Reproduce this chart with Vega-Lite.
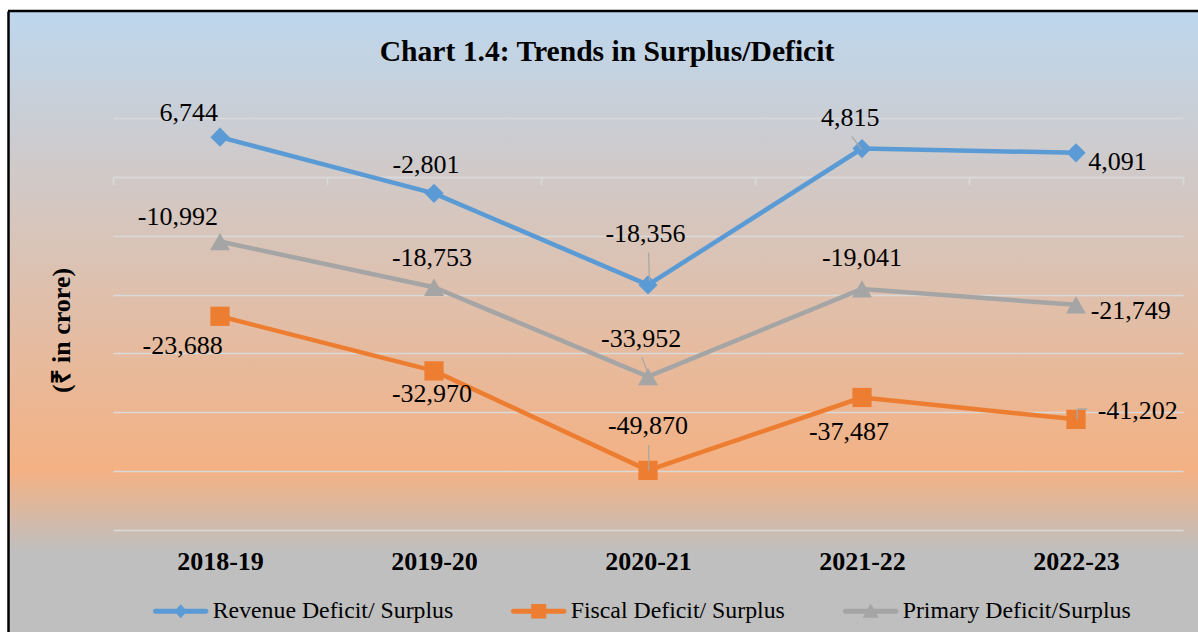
{
  "$schema": "https://vega.github.io/schema/vega-lite/v6.json",
  "width": 1190,
  "height": 621,
  "autosize": {"type": "none"},
  "padding": {"left": 8, "top": 11, "right": 0, "bottom": 0},
  "background": "white",
  "view": {
    "fill": {"gradient": "linear", "x1": 0, "y1": 0, "x2": 0, "y2": 1,
      "stops": [
        {"offset": 0, "color": "#bdd7ee"},
        {"offset": 0.74, "color": "#f4b183"},
        {"offset": 0.87, "color": "#bfbfbf"},
        {"offset": 1, "color": "#bfbfbf"}
      ]},
    "stroke": null
  },
  "config": {
    "locale": {"number": {"decimal": ".", "thousands": ",", "grouping": [3], "currency": ["", ""], "minus": "-"}},
    "font": "Liberation Serif"
  },
  "title": {
    "text": "Chart 1.4: Trends in Surplus/Deficit",
    "font": "Liberation Serif", "fontSize": 29.6, "fontWeight": "bold", "color": "black",
    "anchor": "middle", "frame": "group", "baseline": "alphabetic", "offset": -81, "dx": 4
  },
  "data": {"values": [
    {"year": "2018-19", "series": "Revenue Deficit/ Surplus", "value": 6744},
    {"year": "2019-20", "series": "Revenue Deficit/ Surplus", "value": -2801},
    {"year": "2020-21", "series": "Revenue Deficit/ Surplus", "value": -18356},
    {"year": "2021-22", "series": "Revenue Deficit/ Surplus", "value": 4815},
    {"year": "2022-23", "series": "Revenue Deficit/ Surplus", "value": 4091},
    {"year": "2018-19", "series": "Fiscal Deficit/ Surplus", "value": -23688},
    {"year": "2019-20", "series": "Fiscal Deficit/ Surplus", "value": -32970},
    {"year": "2020-21", "series": "Fiscal Deficit/ Surplus", "value": -49870},
    {"year": "2021-22", "series": "Fiscal Deficit/ Surplus", "value": -37487},
    {"year": "2022-23", "series": "Fiscal Deficit/ Surplus", "value": -41202},
    {"year": "2018-19", "series": "Primary Deficit/Surplus", "value": -10992},
    {"year": "2019-20", "series": "Primary Deficit/Surplus", "value": -18753},
    {"year": "2020-21", "series": "Primary Deficit/Surplus", "value": -33952},
    {"year": "2021-22", "series": "Primary Deficit/Surplus", "value": -19041},
    {"year": "2022-23", "series": "Primary Deficit/Surplus", "value": -21749}
  ]},
  "layer": [
    {
      "data": {"values": [{}]},
      "mark": {"type": "rule", "color": "black", "strokeWidth": 2.5},
      "encoding": {"y": {"datum": 28180, "type": "quantitative"}}
    },
    {
      "mark": {"type": "line", "strokeWidth": 4.5, "strokeJoin": "round"},
      "encoding": {
        "x": {"field": "year", "type": "nominal", "sort": null,
          "scale": {"type": "band", "range": [105, 1175], "paddingInner": 0, "paddingOuter": 0},
          "axis": {"orient": "bottom", "offset": -455.1, "title": null, "grid": false,
            "domainColor": "#d9d9d9", "domainWidth": 1.5, "tickBand": "extent",
            "tickColor": "#d9d9d9", "tickWidth": 1.5, "tickSize": 8,
            "labelFont": "Liberation Serif", "labelFontSize": 26, "labelFontWeight": "bold",
            "labelColor": "black", "labelBaseline": "alphabetic", "labelPadding": 385, "labelAngle": 0}},
        "y": {"field": "value", "type": "quantitative",
          "scale": {"domain": [-77330, 28180], "nice": false, "zero": false},
          "axis": {"orient": "left", "values": [-60000, -50000, -40000, -30000, -20000, -10000, 0, 10000],
            "grid": true, "gridColor": "#d9d9d9", "gridWidth": 1.5, "labels": false, "ticks": false,
            "domain": true, "domainColor": "black", "domainWidth": 2.5,
            "title": "(₹ in crore)", "titleFont": "Liberation Serif", "titleFontSize": 26, "titleFontWeight": "bold",
            "titleColor": "black", "titleAngle": -90, "titleX": 53, "titleY": 319, "titleAlign": "center", "titleBaseline": "middle"}},
        "color": {"field": "series", "type": "nominal",
          "scale": {"domain": ["Revenue Deficit/ Surplus", "Fiscal Deficit/ Surplus", "Primary Deficit/Surplus"], "range": ["#5b9bd5", "#ed7d31", "#a5a5a5"]},
          "legend": {"orient": "none", "legendX": 144.7, "legendY": 572.2, "direction": "horizontal", "columns": 3,
            "columnPadding": 57, "title": null, "padding": 0, "labelFont": "Liberation Serif", "labelFontSize": 23.8,
            "labelColor": "black", "labelOffset": 4, "labelLimit": 0, "symbolSize": 3091,
            "symbolOpacity": 1, "symbolStrokeWidth": 0}}
      }
    },
    {
      "mark": {"type": "point", "filled": true, "size": 3091, "opacity": 0, "strokeWidth": 0},
      "encoding": {
        "x": {"field": "year", "type": "nominal"},
        "y": {"field": "value", "type": "quantitative"},
        "color": {"field": "series", "type": "nominal"},
        "shape": {"field": "series", "type": "nominal",
          "scale": {"domain": ["Revenue Deficit/ Surplus", "Fiscal Deficit/ Surplus", "Primary Deficit/Surplus"],
            "range": [
              "M-0.91,-0.09H0.91A0.09,0.09 0 0 1 0.91,0.09H-0.91A0.09,0.09 0 0 1 -0.91,-0.09Z M0,-0.25L0.23,0L0,0.25L-0.23,0Z",
              "M-0.91,-0.09H0.91A0.09,0.09 0 0 1 0.91,0.09H-0.91A0.09,0.09 0 0 1 -0.91,-0.09Z M-0.27,-0.26H0.27V0.26H-0.27Z",
              "M-0.91,-0.09H0.91A0.09,0.09 0 0 1 0.91,0.09H-0.91A0.09,0.09 0 0 1 -0.91,-0.09Z M0,-0.28L0.29,0.23L-0.29,0.23Z"
            ]},
          "legend": null}
      }
    },
    {
      "transform": [{"filter": "datum.series[0] == 'R'"}],
      "mark": {"type": "point", "shape": "diamond", "filled": true, "size": 370, "opacity": 1, "strokeWidth": 0},
      "encoding": {"x": {"field": "year", "type": "nominal"}, "y": {"field": "value", "type": "quantitative"}, "color": {"field": "series", "type": "nominal"}}
    },
    {
      "transform": [{"filter": "datum.series[0] == 'F'"}],
      "mark": {"type": "point", "shape": "square", "filled": true, "size": 370, "opacity": 1, "strokeWidth": 0},
      "encoding": {"x": {"field": "year", "type": "nominal"}, "y": {"field": "value", "type": "quantitative"}, "color": {"field": "series", "type": "nominal"}}
    },
    {
      "transform": [{"filter": "datum.series[0] == 'P'"}],
      "mark": {"type": "point", "shape": "triangle-up", "filled": true, "size": 400, "opacity": 1, "strokeWidth": 0},
      "encoding": {"x": {"field": "year", "type": "nominal"}, "y": {"field": "value", "type": "quantitative"}, "color": {"field": "series", "type": "nominal"}}
    },
    {
      "transform": [{"filter": "datum.year == '2020-21' && datum.series[0] == 'R'"}],
      "mark": {"type": "rule", "color": "#a6a6a6", "strokeWidth": 1.2, "xOffset": 0.5, "yOffset": -32.4, "x2Offset": 1.5, "y2Offset": -4.4},
      "encoding": {"x": {"field": "year", "type": "nominal"}, "x2": {"field": "year"}, "y": {"field": "value", "type": "quantitative"}, "y2": {"field": "value"}}
    },
    {
      "transform": [{"filter": "datum.year == '2020-21' && datum.series[0] == 'P'"}],
      "mark": {"type": "rule", "color": "#a6a6a6", "strokeWidth": 1.2, "xOffset": -6.3, "yOffset": -19.3, "x2Offset": 0.3, "y2Offset": -3},
      "encoding": {"x": {"field": "year", "type": "nominal"}, "x2": {"field": "year"}, "y": {"field": "value", "type": "quantitative"}, "y2": {"field": "value"}}
    },
    {
      "transform": [{"filter": "datum.year == '2020-21' && datum.series[0] == 'F'"}],
      "mark": {"type": "rule", "color": "#a6a6a6", "strokeWidth": 1.2, "xOffset": 0.7, "yOffset": -25.5, "x2Offset": 0.7, "y2Offset": 0},
      "encoding": {"x": {"field": "year", "type": "nominal"}, "x2": {"field": "year"}, "y": {"field": "value", "type": "quantitative"}, "y2": {"field": "value"}}
    },
    {
      "transform": [{"filter": "datum.year == '2021-22' && datum.series[0] == 'R'"}],
      "mark": {"type": "rule", "color": "#a6a6a6", "strokeWidth": 1.2, "xOffset": -10.3, "yOffset": -12.2, "x2Offset": -0.3, "y2Offset": 1},
      "encoding": {"x": {"field": "year", "type": "nominal"}, "x2": {"field": "year"}, "y": {"field": "value", "type": "quantitative"}, "y2": {"field": "value"}}
    },
    {
      "transform": [{"filter": "datum.year == '2022-23' && datum.series[0] == 'F'"}],
      "mark": {"type": "rule", "color": "#a6a6a6", "strokeWidth": 1.5, "xOffset": 11.3, "yOffset": -10.3, "x2Offset": 1.3, "y2Offset": -10.3},
      "encoding": {"x": {"field": "year", "type": "nominal"}, "x2": {"field": "year"}, "y": {"field": "value", "type": "quantitative"}, "y2": {"field": "value"}}
    },
    {
      "transform": [{"filter": "datum.year == '2022-23' && datum.series[0] == 'F'"}],
      "mark": {"type": "rule", "color": "#a6a6a6", "strokeWidth": 1.5, "xOffset": 1.3, "yOffset": -10.3, "x2Offset": 1.3, "y2Offset": -0.3},
      "encoding": {"x": {"field": "year", "type": "nominal"}, "x2": {"field": "year"}, "y": {"field": "value", "type": "quantitative"}, "y2": {"field": "value"}}
    },
    {
      "transform": [{"filter": "datum.year == '2018-19' && datum.series[0] != 'F'"}],
      "mark": {"type": "text", "align": "right", "baseline": "alphabetic", "dx": -2, "dy": -16.5, "fontSize": 26, "font": "Liberation Serif", "color": "black"},
      "encoding": {"x": {"field": "year", "type": "nominal"}, "y": {"field": "value", "type": "quantitative"}, "text": {"field": "value", "type": "quantitative", "format": ",d"}}
    },
    {
      "transform": [{"filter": "datum.year == '2018-19' && datum.series[0] == 'F'"}],
      "mark": {"type": "text", "align": "right", "baseline": "alphabetic", "dx": 2.7, "dy": 37.3, "fontSize": 26, "font": "Liberation Serif", "color": "black"},
      "encoding": {"x": {"field": "year", "type": "nominal"}, "y": {"field": "value", "type": "quantitative"}, "text": {"field": "value", "type": "quantitative", "format": ",d"}}
    },
    {
      "transform": [{"filter": "datum.year == '2019-20' && datum.series[0] == 'R'"}],
      "mark": {"type": "text", "align": "center", "baseline": "alphabetic", "dx": -8, "dy": -20, "fontSize": 26, "font": "Liberation Serif", "color": "black"},
      "encoding": {"x": {"field": "year", "type": "nominal"}, "y": {"field": "value", "type": "quantitative"}, "text": {"field": "value", "type": "quantitative", "format": ",d"}}
    },
    {
      "transform": [{"filter": "datum.year == '2019-20' && datum.series[0] == 'P'"}],
      "mark": {"type": "text", "align": "center", "baseline": "alphabetic", "dx": -2, "dy": -21.5, "fontSize": 26, "font": "Liberation Serif", "color": "black"},
      "encoding": {"x": {"field": "year", "type": "nominal"}, "y": {"field": "value", "type": "quantitative"}, "text": {"field": "value", "type": "quantitative", "format": ",d"}}
    },
    {
      "transform": [{"filter": "datum.year == '2019-20' && datum.series[0] == 'F'"}],
      "mark": {"type": "text", "align": "center", "baseline": "alphabetic", "dx": -2, "dy": 30.6, "fontSize": 26, "font": "Liberation Serif", "color": "black"},
      "encoding": {"x": {"field": "year", "type": "nominal"}, "y": {"field": "value", "type": "quantitative"}, "text": {"field": "value", "type": "quantitative", "format": ",d"}}
    },
    {
      "transform": [{"filter": "datum.year == '2020-21' && datum.series[0] == 'R'"}],
      "mark": {"type": "text", "align": "center", "baseline": "alphabetic", "dx": -2.5, "dy": -42.7, "fontSize": 26, "font": "Liberation Serif", "color": "black"},
      "encoding": {"x": {"field": "year", "type": "nominal"}, "y": {"field": "value", "type": "quantitative"}, "text": {"field": "value", "type": "quantitative", "format": ",d"}}
    },
    {
      "transform": [{"filter": "datum.year == '2020-21' && datum.series[0] == 'P'"}],
      "mark": {"type": "text", "align": "center", "baseline": "alphabetic", "dx": -6.8, "dy": -29.3, "fontSize": 26, "font": "Liberation Serif", "color": "black"},
      "encoding": {"x": {"field": "year", "type": "nominal"}, "y": {"field": "value", "type": "quantitative"}, "text": {"field": "value", "type": "quantitative", "format": ",d"}}
    },
    {
      "transform": [{"filter": "datum.year == '2020-21' && datum.series[0] == 'F'"}],
      "mark": {"type": "text", "align": "center", "baseline": "alphabetic", "dx": 0, "dy": -36.2, "fontSize": 26, "font": "Liberation Serif", "color": "black"},
      "encoding": {"x": {"field": "year", "type": "nominal"}, "y": {"field": "value", "type": "quantitative"}, "text": {"field": "value", "type": "quantitative", "format": ",d"}}
    },
    {
      "transform": [{"filter": "datum.year == '2021-22' && datum.series[0] == 'R'"}],
      "mark": {"type": "text", "align": "center", "baseline": "alphabetic", "dx": -11.7, "dy": -22.2, "fontSize": 26, "font": "Liberation Serif", "color": "black"},
      "encoding": {"x": {"field": "year", "type": "nominal"}, "y": {"field": "value", "type": "quantitative"}, "text": {"field": "value", "type": "quantitative", "format": ",d"}}
    },
    {
      "transform": [{"filter": "datum.year == '2021-22' && datum.series[0] == 'P'"}],
      "mark": {"type": "text", "align": "center", "baseline": "alphabetic", "dx": 0, "dy": -22.5, "fontSize": 26, "font": "Liberation Serif", "color": "black"},
      "encoding": {"x": {"field": "year", "type": "nominal"}, "y": {"field": "value", "type": "quantitative"}, "text": {"field": "value", "type": "quantitative", "format": ",d"}}
    },
    {
      "transform": [{"filter": "datum.year == '2021-22' && datum.series[0] == 'F'"}],
      "mark": {"type": "text", "align": "center", "baseline": "alphabetic", "dx": -13, "dy": 43, "fontSize": 26, "font": "Liberation Serif", "color": "black"},
      "encoding": {"x": {"field": "year", "type": "nominal"}, "y": {"field": "value", "type": "quantitative"}, "text": {"field": "value", "type": "quantitative", "format": ",d"}}
    },
    {
      "transform": [{"filter": "datum.year == '2022-23' && datum.series[0] == 'R'"}],
      "mark": {"type": "text", "align": "left", "baseline": "alphabetic", "dx": 12.3, "dy": 16.8, "fontSize": 26, "font": "Liberation Serif", "color": "black"},
      "encoding": {"x": {"field": "year", "type": "nominal"}, "y": {"field": "value", "type": "quantitative"}, "text": {"field": "value", "type": "quantitative", "format": ",d"}}
    },
    {
      "transform": [{"filter": "datum.year == '2022-23' && datum.series[0] == 'P'"}],
      "mark": {"type": "text", "align": "left", "baseline": "alphabetic", "dx": 14.7, "dy": 14, "fontSize": 26, "font": "Liberation Serif", "color": "black"},
      "encoding": {"x": {"field": "year", "type": "nominal"}, "y": {"field": "value", "type": "quantitative"}, "text": {"field": "value", "type": "quantitative", "format": ",d"}}
    },
    {
      "transform": [{"filter": "datum.year == '2022-23' && datum.series[0] == 'F'"}],
      "mark": {"type": "text", "align": "left", "baseline": "alphabetic", "dx": 21.7, "dy": -0.3, "fontSize": 26, "font": "Liberation Serif", "color": "black"},
      "encoding": {"x": {"field": "year", "type": "nominal"}, "y": {"field": "value", "type": "quantitative"}, "text": {"field": "value", "type": "quantitative", "format": ",d"}}
    }
  ]
}
